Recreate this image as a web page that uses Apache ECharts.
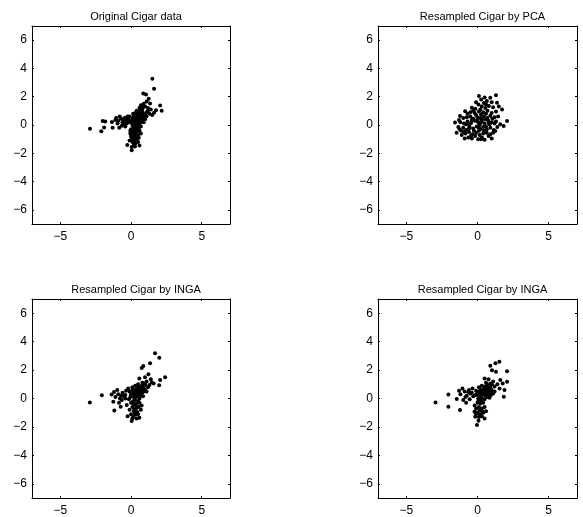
<!DOCTYPE html>
<html>
<head>
<meta charset="utf-8">
<script src="https://cdn.jsdelivr.net/npm/echarts@6/dist/echarts.min.js"></script>
<style>
  html, body { margin: 0; padding: 0; background: #fff; }
  #chart { width: 583px; height: 517px; }
</style>
</head>
<body>
<div id="chart"></div>
<script>
// panel titles
var titles = ["Original Cigar data", "Resampled Cigar by PCA", "Resampled Cigar by INGA", "Resampled Cigar by INGA"];
// axis ticks
var xTicks = [-5, 0, 5];
var yTicks = [-6, -4, -2, 0, 2, 4, 6];

// point sets, [x, y]
var origCigar = [
  [-2.9,-0.26],[-2.1,-0.45],[-1.9,-0.17],[-2.0,0.28],[-1.82,0.24],[-1.35,0.21],[-1.3,-0.19],[-0.83,-0.19],
  [-1.1,0.35],[-0.95,0.1],[-0.7,0.45],[-0.6,0.2],[-0.5,0.05],[-0.45,0.5],[-0.3,0.35],[-0.25,0.6],
  [-0.8,0.6],[-1.05,0.5],[-0.65,-0.05],[-0.4,-0.1],
  [1.51,3.27],[1.63,2.57],[0.87,2.22],[1.06,2.15],[1.25,1.85],[1.11,1.66],[1.35,1.52],[2.06,1.38],
  [2.17,1.0],[1.77,1.05],[1.63,0.87],[0.9,1.5],[1.0,1.3],[0.7,1.4],[0.8,1.1],[1.2,1.2],[1.4,1.1],
  [0.6,1.2],[0.5,0.9],[1.3,0.8],[1.5,0.7],[1.1,0.9],[0.95,0.8],
  [0.1,0.5],[0.2,0.7],[0.3,0.4],[0.4,0.8],[0.5,0.5],[0.6,0.6],[0.7,0.3],[0.8,0.5],[0.9,0.2],[1.0,0.4],
  [0.3,0.1],[0.4,0.2],[0.5,0.0],[0.6,0.1],[0.7,-0.1],[0.2,0.2],[0.0,0.3],[-0.1,0.6],[0.1,0.0],[0.8,0.9],
  [0.45,0.6],[0.55,0.35],[0.65,0.75],[0.75,0.6],[0.35,0.55],[0.25,0.3],[0.85,0.35],[0.95,0.6],[1.1,0.6],
  [0.15,0.8],[0.05,0.15],[-0.15,0.2],[-0.2,0.45],[0.6,0.95],[0.4,1.0],[0.3,0.85],
  [0.35,0.45],[0.55,0.7],[0.7,0.45],[0.45,0.3],[0.6,0.25],[0.8,0.7],[0.9,0.45],[0.25,0.6],[0.15,0.4],
  [0.5,0.2],[0.65,0.55],[0.4,0.65],[0.75,0.2],[1.0,0.75],[-0.3,0.1],[-0.5,0.3],[-0.9,0.3],[0.85,1.25],
  [1.2,1.0],[0.7,1.15],
  [0.0,-0.3],[0.2,-0.2],[0.4,-0.3],[0.6,-0.4],[0.1,-0.5],[0.3,-0.6],[0.5,-0.7],[0.0,-0.8],[0.2,-0.9],
  [0.4,-1.0],[-0.1,-1.1],[0.1,-1.2],[0.3,-1.3],[0.5,-1.2],[-0.26,-1.42],[0.05,-1.55],[0.28,-1.52],
  [0.05,-1.78],[0.55,-0.9],[0.7,-0.6],[0.15,-0.05],[-0.05,-0.6],[0.45,-0.45],[0.25,-1.1],[0.6,-1.45],
  [0.2,-0.1],[0.35,-0.15],[0.1,-0.3],[0.3,-0.45],[0.15,-0.75],[0.35,-0.85],[0.05,-1.0],[0.2,-1.35],
  [-0.05,-0.4],[0.55,-0.2]
];
var pcaCigar = [
  [0.1,2.05],[1.3,2.1],[0.9,1.92],[0.5,1.95],
  [0.26,1.8],[0.66,1.69],[1.37,1.57],[-0.1,1.6],[0.45,1.55],[1.0,1.6],
  [0.07,1.45],[-0.4,1.22],[0.3,1.3],[0.8,1.35],[1.1,1.25],[-0.15,1.15],[0.55,1.2],[1.5,1.3],
  [-0.87,0.98],[-0.5,0.9],[-0.2,0.85],[0.1,0.95],[0.4,0.9],[0.7,1.0],[1.0,0.85],[1.73,1.1],[1.3,0.95],
  [-0.7,0.8],[0.25,0.75],[0.6,0.8],
  [-1.23,0.63],[-1.0,0.5],[-0.75,0.55],[-0.5,0.6],[-0.3,0.45],[0.0,0.55],[0.2,0.5],[0.45,0.6],[0.7,0.5],
  [0.9,0.65],[1.2,0.55],[1.45,0.6],[-0.1,0.7],[0.55,0.4],[1.05,0.45],
  [-1.58,0.17],[-1.2,0.2],[-0.95,0.1],[-0.7,0.25],[-0.45,0.15],[-0.2,0.3],[0.05,0.2],[0.3,0.25],[0.5,0.1],
  [0.75,0.3],[1.0,0.2],[1.3,0.25],[1.6,0.05],[2.08,0.28],[1.84,-0.07],[-0.6,0.0],[0.15,0.0],[0.85,0.05],
  [-1.35,-0.14],[-1.0,-0.2],[-0.8,-0.35],[-0.55,-0.15],[-0.3,-0.25],[-0.05,-0.1],[0.2,-0.3],[0.4,-0.15],
  [0.65,-0.3],[0.9,-0.2],[1.15,-0.35],[1.4,-0.15],[-1.15,-0.4],[0.1,-0.4],
  [-1.47,-0.54],[-1.11,-0.7],[-0.85,-0.6],[-0.6,-0.5],[-0.35,-0.65],[-0.1,-0.55],[0.15,-0.7],[0.4,-0.6],
  [0.65,-0.55],[0.9,-0.65],[1.25,-0.42],[1.1,-0.55],[-0.64,-0.89],[-0.17,-0.77],[0.31,-0.89],[0.78,-0.77],
  [-0.4,-0.95],[0.05,-1.0],[0.5,-1.05],[-0.9,-0.95],[1.0,-0.95],
  [0.0,0.3],[0.3,0.4],[-0.4,0.35],[-0.8,0.05],[0.6,-0.1],[0.2,0.15],[-0.25,-0.4],[0.45,-0.4],[-0.6,-0.25],
  [0.1,-0.2],[0.8,0.15],[-1.3,0.35],[-1.25,-0.3],[-0.95,-0.5],[0.6,1.45],[0.2,1.1],[1.2,0.1],[-0.45,-0.75],
  [0.25,-1.0],[-0.3,1.0]
];
var ingaCigar1 = [
  [1.7,3.18],[2.0,2.86],[1.35,2.48],[0.87,2.29],[0.76,2.15],[1.23,1.71],[0.99,1.5],[0.59,1.41],[2.41,1.5],
  [2.06,1.31],[1.99,0.94],[1.47,1.13],[1.1,1.2],[0.8,1.1],[1.3,0.95],[1.6,1.05],[0.5,1.0],[1.0,0.95],
  [-2.91,-0.28],[-2.06,0.22],[-1.37,0.29],[-1.25,-0.23],[-1.18,-0.84],[-0.73,-0.58],[-0.97,0.59],[-0.78,0.0],
  [-1.1,0.1],[-0.9,0.3],[-0.6,0.4],[-0.5,0.15],[-0.35,0.55],[-0.65,-0.1],[-0.4,0.25],[-0.2,0.7],[-1.2,0.45],
  [-0.85,-0.3],
  [0.0,0.3],[0.2,0.5],[0.4,0.2],[0.6,0.6],[0.8,0.4],[1.0,0.6],[0.1,0.8],[0.3,0.9],[0.5,0.75],[0.7,0.85],
  [0.9,0.7],[1.1,0.5],[0.2,0.1],[0.45,0.45],[0.65,0.25],[0.85,0.15],[0.35,0.65],[0.55,0.5],[0.75,0.65],
  [0.15,0.35],[-0.1,0.5],[-0.05,0.1],[0.3,0.05],[0.6,0.0],[1.2,0.8],[0.25,-0.1],[0.5,-0.15],
  [0.25,0.25],[0.5,0.35],[0.7,0.45],[0.4,0.55],[0.9,0.5],[0.1,0.6],[0.3,0.3],[0.55,0.15],[0.8,0.9],
  [-0.4,0.0],[-0.7,0.2],[0.95,1.05],[1.4,1.35],
  [0.0,-0.3],[0.2,-0.4],[0.4,-0.35],[0.6,-0.3],[0.1,-0.6],[0.35,-0.7],[0.55,-0.6],[0.75,-0.5],[-0.1,-0.8],
  [0.2,-0.9],[0.45,-0.95],[0.0,-1.1],[0.3,-1.15],[-0.24,-1.24],[0.28,-1.05],[0.59,-1.35],[0.05,-1.59],
  [0.15,-1.3],[0.4,-1.4],[-0.3,-0.45],[0.7,-0.8],[-0.15,-0.05],
  [0.15,-0.2],[0.35,-0.5],[0.25,-0.75],[0.5,-1.1],[0.1,-1.4]
];
var ingaCigar2 = [
  [1.54,2.58],[1.26,2.48],[0.9,2.3],[1.02,1.99],[1.3,1.88],[2.08,1.92],[1.77,1.06],[2.08,1.18],[1.85,0.12],
  [0.5,1.41],[0.78,1.36],[1.1,1.2],[1.4,1.0],[0.9,1.05],[1.2,0.85],[1.55,0.7],[0.6,1.1],[1.6,1.3],[1.9,0.6],
  [-2.95,-0.28],[-2.05,0.29],[-2.05,-0.58],[-1.23,-0.81],[-1.46,-0.04],[-1.06,0.71],[-1.2,0.3],[-0.9,0.5],
  [-0.75,0.2],[-1.0,-0.1],[-0.6,0.6],[-0.5,0.35],[-0.8,-0.3],[-0.35,0.7],[-0.55,-0.05],[-0.3,0.15],
  [-0.65,0.45],[-1.3,0.55],
  [0.0,0.4],[0.2,0.6],[0.4,0.5],[0.6,0.7],[0.8,0.5],[1.0,0.6],[0.1,0.8],[0.3,0.9],[0.5,0.85],[0.7,0.95],
  [0.9,0.8],[1.2,0.5],[0.15,0.2],[0.35,0.3],[0.55,0.2],[0.75,0.3],[0.95,0.25],[-0.1,0.55],[0.25,0.45],
  [0.45,0.7],[0.65,0.4],[0.05,0.0],[0.3,0.05],[0.5,-0.05],[0.7,0.1],[-0.15,0.25],[1.1,0.35],[0.85,0.05],
  [0.25,0.25],[0.45,0.4],[0.6,0.55],[0.8,0.65],[0.35,0.6],[0.1,0.45],[0.55,0.35],[0.95,0.45],[0.7,0.75],
  [0.05,0.25],[-0.4,0.4],[-0.85,0.1],[1.0,1.0],
  [0.0,-0.3],[0.2,-0.35],[0.4,-0.3],[-0.2,-0.5],[0.1,-0.6],[0.3,-0.7],[0.5,-0.6],[-0.21,-0.93],[0.0,-1.0],
  [0.2,-1.1],[-0.16,-1.28],[0.07,-1.56],[0.5,-1.4],[-0.04,-1.87],[0.3,-1.25],[0.6,-0.9],[0.15,-0.85],
  [-0.1,-0.7],[0.4,-1.0],[0.25,-0.15],[0.05,-0.2],[-0.1,-1.1],[0.1,-1.3],[0.35,-0.9]
];
var panelData = [origCigar, pcaCigar, ingaCigar1, ingaCigar2];

// panel boxes in pixels
var boxes = [
  { left: 32, top: 26, width: 198, height: 198 },
  { left: 378, top: 26, width: 199, height: 198 },
  { left: 32, top: 299, width: 198, height: 199 },
  { left: 378, top: 299, width: 199, height: 199 }
];

var fontFam = "'Liberation Sans', Arial, sans-serif";
function fmt(v) { return v < 0 ? "\u2212" + (-v) : String(v); }

var chart = echarts.init(document.getElementById("chart"));
var option = { animation: false, title: [], grid: [], xAxis: [], yAxis: [], series: [] };

boxes.forEach(function (b, i) {
  option.grid.push({ left: b.left, top: b.top, width: b.width, height: b.height, containLabel: false });
  option.title.push({
    text: titles[i],
    left: b.left + b.width / 2,
    top: b.top - 20,
    textAlign: "center",
    textStyle: { fontFamily: fontFam, fontSize: 11, fontWeight: "normal", color: "#000" }
  });
  var line = { show: true, onZero: false, lineStyle: { color: "#000", width: 1 } };
  // bottom / left axes with labels
  option.xAxis.push({
    type: "value", gridIndex: i, min: -7, max: 7, position: "bottom",
    axisLine: line, splitLine: { show: false },
    axisLabel: {
      margin: 7, color: "#000", fontFamily: fontFam, fontSize: 12,
      customValues: xTicks, formatter: fmt
    },
    axisTick: { show: true, inside: true, length: 2, lineStyle: { color: "#000" }, customValues: xTicks }
  });
  option.yAxis.push({
    type: "value", gridIndex: i, min: -7, max: 7, position: "left",
    axisLine: line, splitLine: { show: false },
    axisLabel: {
      margin: 5, color: "#000", fontFamily: fontFam, fontSize: 12,
      customValues: yTicks, formatter: fmt
    },
    axisTick: { show: true, inside: true, length: 2, lineStyle: { color: "#000" }, customValues: yTicks }
  });
  // top / right axes for the box and inner ticks
  option.xAxis.push({
    type: "value", gridIndex: i, min: -7, max: 7, position: "top",
    axisLine: line, splitLine: { show: false }, axisLabel: { show: false },
    axisTick: { show: true, inside: true, length: 2, lineStyle: { color: "#000" }, customValues: xTicks }
  });
  option.yAxis.push({
    type: "value", gridIndex: i, min: -7, max: 7, position: "right",
    axisLine: line, splitLine: { show: false }, axisLabel: { show: false },
    axisTick: { show: true, inside: true, length: 2, lineStyle: { color: "#000" }, customValues: yTicks }
  });
  option.series.push({
    type: "scatter",
    xAxisIndex: i * 2,
    yAxisIndex: i * 2,
    data: panelData[i],
    symbol: "circle",
    symbolSize: 4,
    itemStyle: { color: "#000", opacity: 1 },
    silent: true
  });
});

chart.setOption(option);
</script>
</body>
</html>
